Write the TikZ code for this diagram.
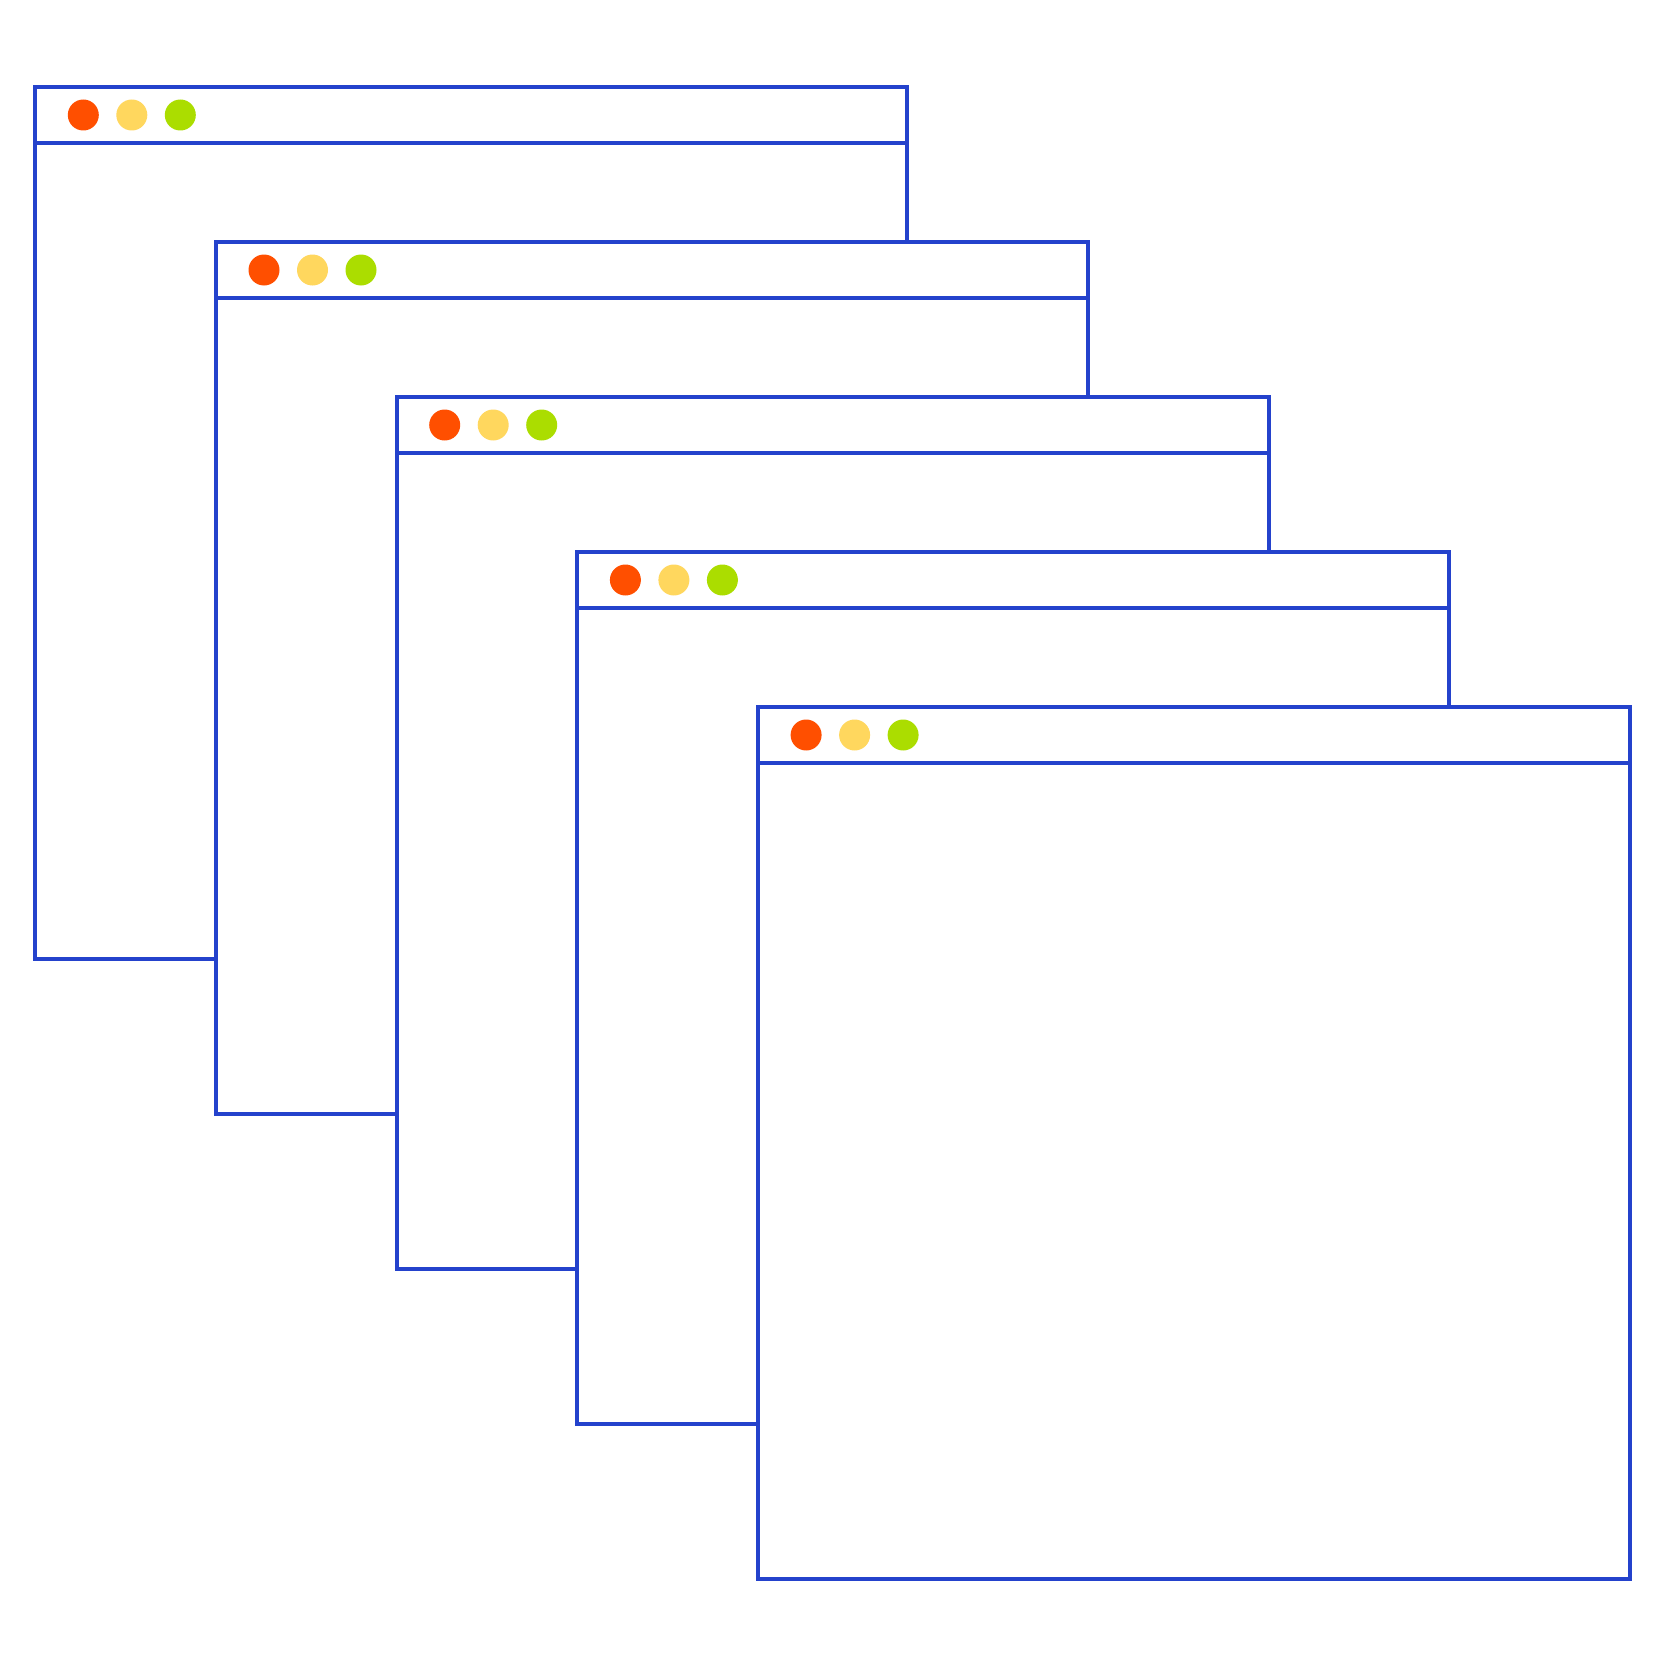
\documentclass[tikz,border=0pt]{standalone}
\usepackage{xcolor}
\usepackage{tikz}

\definecolor{winblue}{HTML}{2442CC}
\definecolor{dotred}{HTML}{FF4F00}
\definecolor{dotyellow}{HTML}{FFD75E}
\definecolor{dotgreen}{HTML}{ABDD00}

\tikzset{
  window/.style={draw=winblue, line width=4pt, fill=white, minimum width=872pt, minimum height=872pt, inner sep=0pt, outer sep=0pt},
  dot/.style={circle, inner sep=0pt, outer sep=0pt, minimum size=31pt}
}

\begin{document}
\begin{tikzpicture}[x=1pt, y=-1pt]
\useasboundingbox (0,0) rectangle (1667,1667);
\foreach \i in {0,...,4} {
  \node[window] (win\i) at ({471.3+180.7*\i},{523.3+155*\i}) {};
  \draw[winblue, line width=4pt] ([yshift=-55.5pt]win\i.north west) -- ([yshift=-55.5pt]win\i.north east);
  \node[dot, fill=dotred] (red\i) at ([xshift=48pt, yshift=-27.7pt]win\i.north west) {};
  \node[dot, fill=dotyellow] (yellow\i) at ([xshift=48.5pt]red\i) {};
  \node[dot, fill=dotgreen] (green\i) at ([xshift=48.5pt]yellow\i) {};
}
\end{tikzpicture}
\end{document}
